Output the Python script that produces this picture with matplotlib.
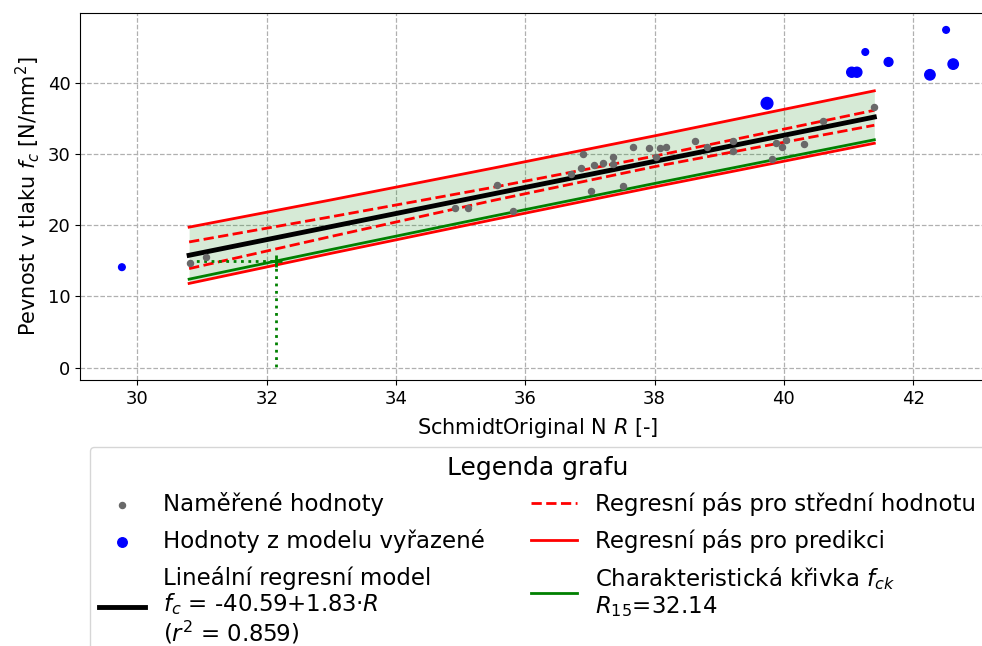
"""
Schmidt hammer calibration: compressive strength vs rebound number R,
linear regression with confidence / prediction bands and characteristic curve.
"""

import matplotlib
matplotlib.use("Agg")
import matplotlib.pyplot as plt

# measured points kept in the model
r_meas = [30.81, 31.06, 34.91, 35.11, 35.56, 35.81, 36.71, 36.86, 36.90, 37.01,
          37.06, 37.21, 37.36, 37.36, 37.51, 37.66, 37.91, 38.02, 38.09, 38.17,
          38.62, 38.81, 39.21, 39.21, 39.81, 39.88, 39.97, 40.03, 40.31, 40.61,
          41.40]
fc_meas = [14.65, 15.50, 22.46, 22.37, 25.60, 22.00, 27.20, 28.07, 30.00, 24.85,
           28.45, 28.77, 29.60, 28.60, 25.50, 31.00, 30.88, 29.50, 30.88, 30.97,
           31.82, 30.98, 31.80, 30.40, 29.30, 31.50, 30.90, 31.96, 31.40, 34.60,
           36.60]

# points excluded from the model (marker area varies)
r_excl = [29.76, 39.74, 41.05, 41.13, 41.26, 41.62, 42.26, 42.51, 42.62]
fc_excl = [14.1, 37.1, 41.46, 41.46, 44.3, 42.9, 41.1, 47.4, 42.6]
s_excl = [23, 71, 52, 52, 23, 40, 56, 23, 56]

# regression model and bands, read at a few R positions
r_band = [30.8, 33.0, 35.5, 38.0, 41.4]
fc_fit = [15.77, 19.80, 24.38, 28.95, 35.17]
pred_upper = [19.72, 23.55, 28.00, 32.53, 38.85]
pred_lower = [11.82, 16.05, 20.76, 25.37, 31.49]
conf_upper = [17.64, 21.18, 25.30, 29.69, 36.12]
conf_lower = [13.90, 18.42, 23.46, 28.21, 34.02]
fc_char = [12.42, 16.58, 21.26, 25.85, 31.98]

R15 = 32.14
FC15 = 15.0

LABEL_MODEL = "Lineální regresní model\n$f_c$ = -40.59+1.83·$R$\n($r^2$ = 0.859)"
LABEL_CHAR = "Charakteristická křivka $f_{ck}$\n$R_{15}$=32.14"


def main() -> None:
    fig = plt.figure(figsize=(9.82, 6.46), dpi=100)
    ax = fig.add_axes([0.0818, 0.4118, 0.931, 0.5686])

    ax.fill_between(r_band, pred_lower, pred_upper, color="green", alpha=0.16, linewidth=0)

    meas = ax.scatter(r_meas, fc_meas, s=19, color="dimgray", zorder=4)
    excl = ax.scatter(r_excl, fc_excl, s=s_excl, color="blue", zorder=4)

    (fit_line,) = ax.plot(r_band, fc_fit, color="black", linewidth=3.5, zorder=3)
    (conf_line,) = ax.plot(r_band, conf_upper, color="red", linestyle="--", linewidth=2, zorder=3)
    ax.plot(r_band, conf_lower, color="red", linestyle="--", linewidth=2, zorder=3)
    (pred_line,) = ax.plot(r_band, pred_upper, color="red", linewidth=2, zorder=3)
    ax.plot(r_band, pred_lower, color="red", linewidth=2, zorder=3)
    (char_line,) = ax.plot(r_band, fc_char, color="green", linewidth=2, zorder=3)

    # R15 marker with dotted guides
    ax.plot([r_band[0], R15], [FC15, FC15], color="green", linestyle=":", linewidth=2, zorder=3)
    ax.plot([R15, R15], [FC15, 0], color="green", linestyle=":", linewidth=2, zorder=3)
    ax.plot([R15], [FC15], marker="+", color="green", markersize=9, markeredgewidth=2, zorder=3)

    ax.set_xlim(29.117, 43.26)
    ax.set_ylim(-1.73, 49.82)
    ax.grid(True, linestyle="--", color="#b0b0b0", linewidth=0.9)
    ax.set_axisbelow(True)
    ax.tick_params(labelsize=13)

    ax.set_xlabel("SchmidtOriginal N $R$ [-]", fontsize=15, labelpad=6)
    ax.set_ylabel("Pevnost v tlaku $f_c$ [N/mm$^2$]", fontsize=15)

    leg = ax.legend(
        [meas, excl, fit_line, conf_line, pred_line, char_line],
        ["Naměřené hodnoty", "Hodnoty z modelu vyřazené", LABEL_MODEL,
         "Regresní pás pro střední hodnotu", "Regresní pás pro predikci", LABEL_CHAR],
        loc="upper center",
        bbox_to_anchor=(0.5, -0.15),
        ncol=2,
        fontsize=16.5,
        labelspacing=0.55,
        title="Legenda grafu",
        title_fontsize=18,
    )
    for t in leg.get_texts():
        t.set_linespacing(1.08)

    fig.savefig("out.png", dpi=100)
    plt.close(fig)


if __name__ == "__main__":
    main()
